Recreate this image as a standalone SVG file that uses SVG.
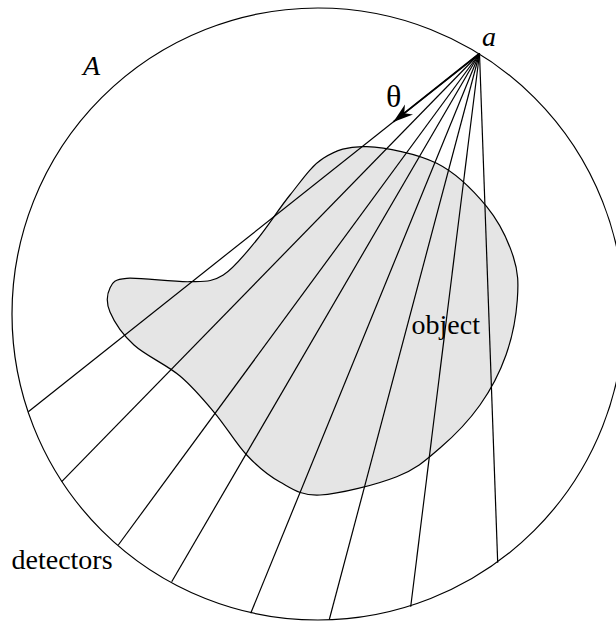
<svg xmlns="http://www.w3.org/2000/svg" width="616" height="621" viewBox="0 0 616 621">
  <style>
    .outline { fill: none; stroke: #000; stroke-width: 1.2; }
    .ray { stroke: #000; stroke-width: 1.2; fill: none; }
    .lbl { font-family: "Liberation Serif", "Times New Roman", serif; font-size: 28px; fill: #000; }
    .it { font-style: italic; }
  </style>
  <defs>
    <marker id="arrow" viewBox="-21 -7 22 14" markerWidth="22" markerHeight="14" refX="0" refY="0" markerUnits="userSpaceOnUse" orient="auto">
      <path d="M0,0 L-20,-6.5 L-14,0 L-20,6.5 Z" fill="#000"/>
    </marker>
  </defs>
  <rect width="616" height="621" fill="#fff"/>

  <g id="region-A">
    <circle cx="318" cy="314" r="306" class="outline"/>
    <text class="lbl it" x="83" y="75">A</text>
  </g>

  <g id="object">
    <path fill="#e5e5e5" stroke="#000" stroke-width="1.2" d="M366.7,146.7
      C385.6,147.5 416.7,153.3 436.7,163.3
      C456.7,173.3 473.9,191.1 486.7,206.7
      C499.5,222.3 508.2,241.2 513.3,256.7
      C518.4,272.3 518.5,283.6 517.3,300
      C516.1,316.4 512.2,337.5 506,355
      C499.8,372.5 491,389.5 480,405
      C469,420.5 453.9,436.1 440,448
      C426.1,460 416.7,468.9 396.7,476.7
      C376.7,484.5 339.5,494.1 320,495
      C300.6,495.9 292.2,488.7 280,482
      C267.8,475.3 257.5,466.5 246.7,455
      C235.9,443.6 226.1,426.5 215,413.3
      C203.9,400.1 193.5,387.4 180,376
      C166.5,364.6 145.7,355.7 134,345
      C122.3,334.3 114,321.5 110,312
      C106,302.5 107.2,293.6 110,288
      C112.8,282.4 113.4,279.4 126.7,278.3
      C140,277.3 173.9,282.3 190,281.7
      C206.1,281.2 212.2,282 223.3,275
      C234.4,268.1 245.6,253.3 256.7,240
      C267.8,226.7 278.9,208.6 290,195
      C301.1,181.4 310.5,166.4 323.3,158.3
      C336.1,150.3 347.8,145.9 366.7,146.7 Z"/>
    <text class="lbl" x="411.5" y="334">object</text>
  </g>

  <g id="source-a">
    <text class="lbl it" x="482" y="46">a</text>
  </g>

  <g id="rays">
    <line class="ray" x1="479.5" y1="53.5" x2="28.3" y2="411.7"/>
    <line class="ray" x1="479.5" y1="53.5" x2="61.7" y2="481.7"/>
    <line class="ray" x1="479.5" y1="53.5" x2="118.3" y2="545"/>
    <line class="ray" x1="479.5" y1="53.5" x2="171.7" y2="581.7"/>
    <line class="ray" x1="479.5" y1="53.5" x2="250.7" y2="613.3"/>
    <line class="ray" x1="479.5" y1="53.5" x2="329.3" y2="619.5"/>
    <line class="ray" x1="479.5" y1="53.5" x2="410.7" y2="606.7"/>
    <line class="ray" x1="479.5" y1="53.5" x2="497.7" y2="562.7"/>
    <line x1="479.5" y1="53.5" x2="393.3" y2="121.9" stroke="#000" stroke-width="1.8" marker-end="url(#arrow)"/>
  </g>

  <g id="theta">
    <text class="lbl" x="386" y="107" style="font-size:32px">θ</text>
  </g>

  <g id="detectors">
    <text class="lbl" x="11.5" y="569">detectors</text>
  </g>
</svg>
